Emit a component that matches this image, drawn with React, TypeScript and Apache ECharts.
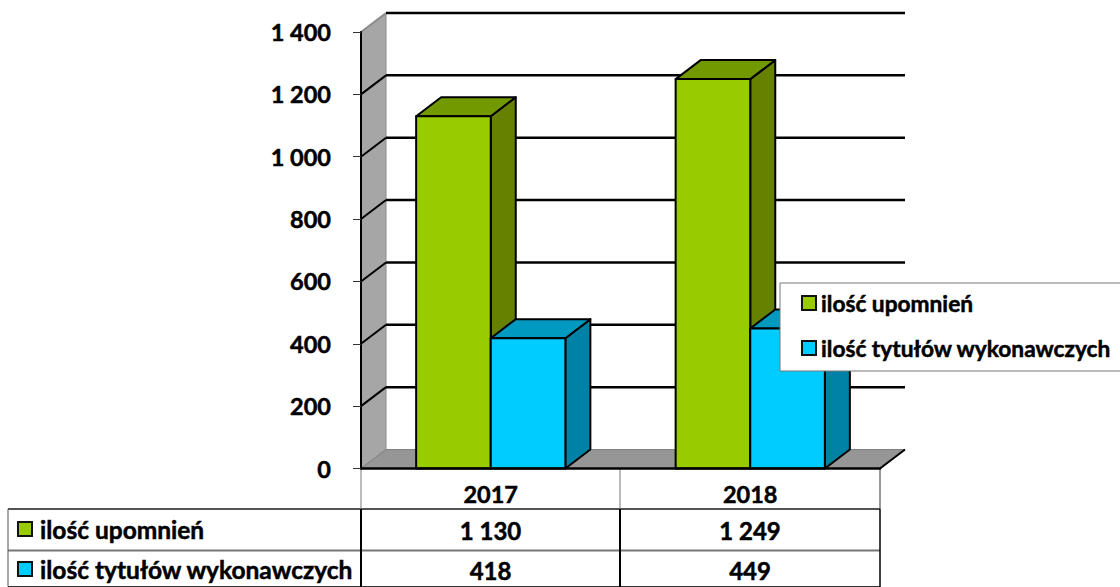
import React, { useEffect, useRef } from "react";
import * as echarts from "echarts";

const categories = ["2017", "2018"];
const seriesNames = ["ilość upomnień", "ilość tytułów wykonawczych"];
const upomnienia = [1130, 1249];
const tytuly = [418, 449];
const gridValues = [0, 200, 400, 600, 800, 1000, 1200, 1400];

const FONT = "Lato";
const DX = 25;
const DY = -19;
const BAR_FRAC = 0.2875;
const palette = [
  { front: "#99CC00", top: "#739900", side: "#668000" },
  { front: "#00CCFF", top: "#0099BF", side: "#0082A6" },
];
const heavy = { textBorderColor: "#000", textBorderWidth: 0.5 };
const heavyGraphic = { stroke: "#000", lineWidth: 0.5 };

const fmt = (v: number) =>
  v >= 1000 ? `${Math.floor(v / 1000)} ${String(v % 1000).padStart(3, "0")}` : String(v);

function barSeries(name: string, values: number[], idx: number) {
  const c = palette[idx];
  return {
    type: "custom",
    name,
    z: 5 + idx,
    itemStyle: { color: c.front },
    encode: { x: 0, y: 1 },
    data: values.map((v, i) => [i, v]),
    renderItem: (_p: any, api: any) => {
      const cat = api.value(0);
      const top = api.coord([cat, api.value(1)]);
      const base = api.coord([cat, 0]);
      const w = api.size([1, 0])[0] * BAR_FRAC;
      const x0 = idx === 0 ? top[0] - w : top[0];
      const x1 = x0 + w;
      const stroke = { stroke: "#000", lineWidth: 2, lineJoin: "round" };
      return {
        type: "group",
        children: [
          {
            type: "polygon",
            shape: { points: [[x1, top[1]], [x1 + DX, top[1] + DY], [x1 + DX, base[1] + DY], [x1, base[1]]] },
            style: { fill: c.side, ...stroke },
          },
          {
            type: "polygon",
            shape: { points: [[x0, top[1]], [x0 + DX, top[1] + DY], [x1 + DX, top[1] + DY], [x1, top[1]]] },
            style: { fill: c.top, ...stroke },
          },
          {
            type: "rect",
            shape: { x: x0, y: top[1], width: w, height: base[1] - top[1] },
            style: { fill: c.front, ...stroke },
          },
        ],
      };
    },
  };
}

const wallSeries = {
  type: "custom",
  silent: true,
  z: 1,
  data: [[0, 0]],
  encode: { x: 0, y: 1 },
  renderItem: (p: any) => {
    const { x, y, width, height } = p.coordSys;
    const b = y + height;
    return {
      type: "group",
      children: [
        {
          type: "polygon",
          shape: { points: [[x, y], [x + DX, y + DY], [x + DX, b + DY], [x, b]] },
          style: { fill: "#A6A6A6", stroke: "#8C8C8C", lineWidth: 1 },
        },
        {
          type: "polygon",
          shape: { points: [[x, b], [x + DX, b + DY], [x + width + DX, b + DY], [x + width, b]] },
          style: { fill: "#969696", stroke: "#808080", lineWidth: 1 },
        },
        {
          type: "line",
          shape: { x1: x + width, y1: b, x2: x + width + DX, y2: b + DY },
          style: { stroke: "#000", lineWidth: 2 },
        },
      ],
    };
  },
};

const gridSeries = {
  type: "custom",
  silent: true,
  z: 2,
  data: gridValues.slice(1).map((v) => [0, v]),
  encode: { x: 0, y: 1 },
  renderItem: (p: any, api: any) => {
    const { x, width } = p.coordSys;
    const v = api.value(1);
    const py = api.coord([0, v])[1];
    const last = v === gridValues[gridValues.length - 1];
    return {
      type: "group",
      children: [
        {
          type: "line",
          shape: { x1: x, y1: py, x2: x + DX, y2: py + DY },
          style: { stroke: last ? "#8C8C8C" : "#000", lineWidth: 2 },
        },
        {
          type: "line",
          shape: { x1: x + DX, y1: py + DY, x2: x + width + DX, y2: py + DY },
          style: { stroke: "#000", lineWidth: 2.5 },
        },
      ],
    };
  },
};

function tableGraphics() {
  const out: any[] = [];
  const tl = { left: 8, a: 361, b: 620, c: 880, h0: 468.5, r1: 509, r2: 550.5, r3: 586.5 };
  const line = (x1: number, y1: number, x2: number, y2: number, stroke: string, lineWidth = 2) =>
    out.push({ type: "line", shape: { x1, y1, x2, y2 }, style: { stroke, lineWidth }, z: 1 });
  line(tl.left, tl.r1, tl.c, tl.r1, "#1a1a1a", 1.5);
  line(tl.left, tl.r2, tl.c, tl.r2, "#777", 2);
  line(tl.left, tl.r3, tl.c, tl.r3, "#333", 1);
  line(tl.left, tl.r1, tl.left, tl.r3, "#555", 1);
  line(tl.a, tl.h0, tl.a, tl.r1, "#777", 1);
  line(tl.b, tl.h0, tl.b, tl.r1, "#777", 1);
  line(tl.c, tl.h0, tl.c, tl.r1, "#333", 1);
  line(tl.a, tl.r1, tl.a, tl.r3 + 1, "#000", 2);
  line(tl.b, tl.r1, tl.b, tl.r3 + 1, "#000", 2);
  line(tl.c, tl.r1, tl.c, tl.r3 + 1, "#000", 1.5);

  const rows = [upomnienia, tytuly];
  const rowY = [530, 570];
  const centers = [490.5, 750];
  rows.forEach((vals, r) => {
    out.push({
      type: "rect",
      shape: { x: 18, y: rowY[r] - 8, width: 14, height: 14 },
      style: { fill: palette[r].front, stroke: "#111", lineWidth: 2 },
      z: 2,
    });
    out.push({
      type: "text",
      x: 40,
      y: rowY[r] - 1,
      style: { text: seriesNames[r], font: `bold 24.5px ${FONT}`, fill: "#000", textVerticalAlign: "middle", ...heavyGraphic },
      z: 2,
    });
    vals.forEach((v, i) => {
      out.push({
        type: "text",
        x: centers[i],
        y: rowY[r],
        style: {
          text: fmt(v),
          font: `bold 24px ${FONT}`,
          fill: "#000",
          textAlign: "center",
          textVerticalAlign: "middle",
          ...heavyGraphic,
        },
        z: 2,
      });
    });
  });
  return out;
}

export default function App() {
  const ref = useRef<HTMLDivElement>(null);
  useEffect(() => {
    const chart = echarts.init(ref.current!, undefined, { renderer: "svg" });
    chart.setOption({
      animation: false,
      backgroundColor: "#fff",
      grid: { left: 361, top: 32, width: 519, height: 436.5 },
      xAxis: {
        type: "category",
        data: categories,
        axisLine: { lineStyle: { color: "#000", width: 2.5 } },
        axisTick: { show: false },
        axisLabel: { color: "#000", fontFamily: FONT, fontWeight: "bold", fontSize: 23.5, margin: 13, ...heavy },
        z: 8,
      },
      yAxis: {
        type: "value",
        min: 0,
        max: 1400,
        interval: 200,
        splitLine: { show: false },
        axisLine: { show: true, lineStyle: { color: "#000", width: 2 } },
        axisTick: { show: true, length: 8, lineStyle: { color: "#333", width: 1 } },
        axisLabel: {
          color: "#000",
          fontFamily: FONT,
          fontWeight: "bold",
          fontSize: 23.5,
          margin: 30,
          lineHeight: 28,
          padding: [2, 0, 0, 0],
          formatter: (v: number) => fmt(v),
          ...heavy,
        },
        z: 8,
      },
      legend: {
        left: 780,
        top: 283,
        orient: "vertical",
        align: "left",
        padding: [7, 40, 10, 21],
        itemGap: 19,
        itemWidth: 14,
        itemHeight: 14,
        backgroundColor: "#fff",
        borderColor: "#777",
        borderWidth: 1,
        z: 20,
        textStyle: { color: "#000", fontFamily: FONT, fontWeight: "bold", fontSize: 22.7, lineHeight: 26, ...heavy },
        data: seriesNames.map((name, i) => ({
          name,
          icon: "rect",
          itemStyle: { color: palette[i].front, borderColor: "#111", borderWidth: 2 },
        })),
      },
      graphic: { elements: tableGraphics() },
      series: [wallSeries, gridSeries, barSeries(seriesNames[0], upomnienia, 0), barSeries(seriesNames[1], tytuly, 1)],
    });
    return () => chart.dispose();
  }, []);
  return <div ref={ref} style={{ position: "absolute", left: 0, top: 0, width: 1120, height: 587 }} />;
}
